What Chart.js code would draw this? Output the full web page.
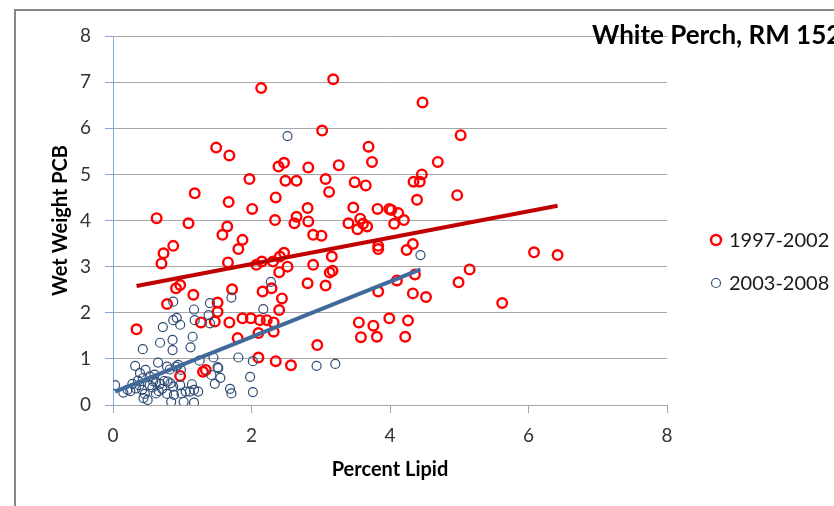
<!DOCTYPE html>
<html>
<head>
<meta charset="utf-8">
<title>White Perch, RM 152</title>
<script src="https://cdn.jsdelivr.net/npm/chart.js@4.4.1/dist/chart.umd.min.js"></script>
<style>
    html, body { margin: 0; padding: 0; background: #fff; }
    #pcb-chart { display: block; }
</style>
</head>
<body>
<canvas id="pcb-chart" width="834" height="506"></canvas>
<script>
    const chartTitle = 'White Perch, RM 152';
    const seriesNames = ['1997-2002', '2003-2008'];

    // percent lipid / wet weight PCB, 1997-2002
    const lipid9702 = [0.63, 0.73, 0.87, 1.09, 1.18, 1.49, 1.68, 1.67, 1.58, 1.65, 1.81, 1.87, 1.97, 2.01, 2.14, 2.34,
        2.35, 2.39, 2.47, 2.49, 2.62, 2.65, 2.65, 2.81, 2.82, 2.82, 2.89, 3.01, 3.02, 3.07, 3.12, 3.18, 3.26, 3.40,
        3.47, 3.49, 3.53, 3.57, 3.61, 3.65, 3.67, 3.69, 3.74, 3.82, 3.83, 3.83, 3.99, 4.02, 4.06, 4.12, 4.20, 4.24,
        4.33, 4.34, 4.43, 4.39, 4.46, 4.47, 5.02, 4.69, 4.97, 6.08, 6.42, 5.15, 4.99, 5.62, 3.16, 3.17, 3.13, 3.07,
        4.36, 4.10, 3.83, 4.33, 4.52, 3.55, 3.76, 3.99, 4.26, 3.58, 3.81, 4.22, 0.34, 0.70, 0.91, 0.97, 0.78, 1.16,
        1.27, 1.66, 1.72, 1.68, 1.51, 1.51, 1.47, 1.80, 1.30, 1.34, 0.97, 1.87, 1.99, 2.07, 2.15, 2.16, 2.10, 2.12,
        2.22, 2.10, 2.31, 2.29, 2.40, 2.44, 2.40, 2.52, 2.32, 2.32, 2.35, 2.57, 2.81, 2.89, 2.95, 2.41, 2.47];
    const pcb9702 = [4.05, 3.29, 3.45, 3.94, 4.59, 5.58, 5.41, 4.40, 3.69, 3.87, 3.38, 3.58, 4.90, 4.25, 6.87, 4.01,
        4.50, 5.17, 5.25, 4.86, 3.94, 4.86, 4.08, 4.27, 5.15, 3.98, 3.69, 3.67, 5.95, 4.90, 4.62, 7.06, 5.20, 3.94,
        4.28, 4.83, 3.81, 4.04, 3.93, 4.76, 3.87, 5.60, 5.27, 4.25, 3.45, 3.38, 4.25, 4.23, 3.93, 4.16, 4.01, 3.36,
        3.49, 4.84, 4.84, 4.45, 5.00, 6.56, 5.85, 5.27, 4.55, 3.31, 3.25, 2.94, 2.66, 2.21, 3.22, 2.91, 2.87, 2.59,
        2.83, 2.70, 2.46, 2.42, 2.34, 1.79, 1.72, 1.88, 1.83, 1.47, 1.48, 1.48, 1.64, 3.07, 2.53, 2.60, 2.19, 2.39,
        1.79, 3.09, 2.51, 1.79, 2.22, 2.02, 1.81, 1.45, 0.72, 0.76, 0.63, 1.88, 1.88, 3.04, 3.11, 2.46, 1.56, 1.84,
        1.84, 1.03, 3.11, 2.53, 2.06, 2.31, 2.88, 3.00, 1.79, 1.59, 0.95, 0.86, 2.64, 3.04, 1.30, 3.22, 3.30];

    // percent lipid / wet weight PCB, 2003-2008
    const lipid0308 = [2.52, 4.44, 2.28, 1.71, 2.17, 1.81, 2.02, 1.52, 1.55, 1.47, 1.98, 1.69, 1.71, 2.02, 2.94, 3.21,
        0.87, 1.17, 1.40, 1.18, 0.87, 0.92, 0.97, 0.72, 1.38, 1.40, 0.86, 0.68, 1.15, 1.12, 0.86, 0.43, 0.65, 0.32,
        0.39, 0.47, 1.45, 1.25, 1.51, 1.42, 1.14, 1.17, 1.23, 1.11, 1.05, 0.99, 0.97, 1.17, 1.02, 0.84, 0.88, 0.78,
        0.94, 0.78, 0.82, 0.91, 0.98, 0.79, 0.83, 0.87, 0.03, 0.15, 0.21, 0.28, 0.33, 0.43, 0.38, 0.42, 0.46, 0.44,
        0.50, 0.53, 0.58, 0.62, 0.68, 0.74, 0.53, 0.60, 0.62, 0.66, 0.71, 0.25, 0.36, 0.57];
    const pcb0308 = [5.83, 3.25, 2.67, 2.33, 2.08, 1.03, 0.95, 0.80, 0.59, 0.46, 0.61, 0.35, 0.25, 0.28, 0.85, 0.89,
        2.24, 2.07, 2.21, 1.84, 1.84, 1.89, 1.74, 1.69, 1.95, 1.77, 1.41, 1.35, 1.48, 1.25, 1.19, 1.21, 0.92, 0.85,
        0.69, 0.76, 1.03, 0.96, 0.82, 0.65, 0.45, 0.33, 0.29, 0.29, 0.29, 0.25, 0.43, 0.05, 0.07, 0.07, 0.22, 0.24,
        0.87, 0.83, 0.77, 0.83, 0.76, 0.51, 0.47, 0.40, 0.43, 0.27, 0.33, 0.46, 0.36, 0.58, 0.43, 0.33, 0.24, 0.15,
        0.11, 0.43, 0.51, 0.50, 0.46, 0.52, 0.62, 0.66, 0.25, 0.30, 0.35, 0.30, 0.53, 0.38];

    // linear trend lines, end points
    const trendLipid9702 = [0.34, 6.42];
    const trendPcb9702 = [2.58, 4.32];
    const trendLipid0308 = [0.03, 4.44];
    const trendPcb0308 = [0.29, 2.94];

    const xTicks = [0, 2, 4, 6, 8];
    const yTicks = [0, 1, 2, 3, 4, 5, 6, 7, 8];

    const colors = {
        red: '#ff0000',
        redTrend: '#c00000',
        blue: '#2e4c74',
        blueTrend: '#41699c',
        grid: '#a6a6a6',
        yAxis: '#86a9d6'
    };
    const fontFamily = 'Lato, "Open Sans", sans-serif';

    function toPoints(xs, ys) {
        return xs.map((x, i) => ({ x: x, y: ys[i] }));
    }

    // white background, outer frame, title and legend
    const framePlugin = {
        id: 'frame',
        beforeDraw(chart) {
            const ctx = chart.ctx;
            ctx.save();
            ctx.fillStyle = '#fff';
            ctx.fillRect(0, 0, chart.width, chart.height);
            ctx.strokeStyle = '#868686';
            ctx.lineWidth = 2;
            ctx.strokeRect(15, 10, 900, 600);
            ctx.restore();
        },
        afterDraw(chart) {
            const ctx = chart.ctx;
            ctx.save();
            ctx.fillStyle = '#000';
            ctx.font = 'bold 26px ' + fontFamily;
            ctx.textBaseline = 'middle';
            ctx.textAlign = 'left';
            ctx.fillText(chartTitle, 592, 36);

            const legend = [
                { name: seriesNames[0], color: colors.red, r: 5, w: 2.4, y: 240 },
                { name: seriesNames[1], color: colors.blue, r: 4.5, w: 1.2, y: 283 }
            ];
            ctx.font = '20px ' + fontFamily;
            legend.forEach(item => {
                ctx.beginPath();
                ctx.arc(716, item.y, item.r, 0, Math.PI * 2);
                ctx.strokeStyle = item.color;
                ctx.lineWidth = item.w;
                ctx.stroke();
                ctx.fillStyle = '#1a1a1a';
                ctx.fillText(item.name, 729, item.y + 1);
            });
            ctx.restore();
        }
    };

    new Chart(document.getElementById('pcb-chart'), {
        type: 'scatter',
        data: {
            datasets: [{
                label: seriesNames[0] + ' trend',
                data: toPoints(trendLipid9702, trendPcb9702),
                showLine: true,
                borderColor: colors.redTrend,
                borderWidth: 4,
                pointRadius: 0,
                order: 0
            }, {
                label: seriesNames[1] + ' trend',
                data: toPoints(trendLipid0308, trendPcb0308),
                showLine: true,
                borderColor: colors.blueTrend,
                borderWidth: 4,
                pointRadius: 0,
                order: 0
            }, {
                label: seriesNames[0],
                data: toPoints(lipid9702, pcb9702),
                pointRadius: 4.8,
                pointBorderWidth: 2.4,
                borderColor: colors.red,
                backgroundColor: 'rgba(0,0,0,0)',
                order: 2
            }, {
                label: seriesNames[1],
                data: toPoints(lipid0308, pcb0308),
                pointRadius: 4.5,
                pointBorderWidth: 1.2,
                borderColor: colors.blue,
                backgroundColor: 'rgba(0,0,0,0)',
                order: 1
            }]
        },
        options: {
            responsive: false,
            devicePixelRatio: 1,
            animation: false,
            layout: {
                padding: { left: 0, top: 36, right: 167, bottom: 0 }
            },
            plugins: {
                legend: { display: false },
                tooltip: { enabled: false }
            },
            scales: {
                x: {
                    type: 'linear',
                    min: 0,
                    max: 8,
                    afterBuildTicks: scale => { scale.ticks = xTicks.map(v => ({ value: v })); },
                    afterFit: scale => { scale.height = 101; },
                    grid: {
                        drawOnChartArea: false,
                        tickLength: 8,
                        tickColor: colors.grid
                    },
                    border: { color: colors.grid, width: 1 },
                    ticks: {
                        padding: 11,
                        color: '#333',
                        font: { family: fontFamily, size: 19 }
                    },
                    title: {
                        display: true,
                        text: 'Percent Lipid',
                        color: '#000',
                        font: { family: fontFamily, size: 20, weight: 'bold' },
                        padding: { top: 0, bottom: 24 }
                    }
                },
                y: {
                    type: 'linear',
                    min: 0,
                    max: 8,
                    afterBuildTicks: scale => { scale.ticks = yTicks.map(v => ({ value: v })); },
                    afterFit: scale => { scale.width = 113; },
                    grid: {
                        color: colors.grid,
                        tickLength: 8,
                        tickColor: colors.yAxis
                    },
                    border: { color: colors.yAxis, width: 1 },
                    ticks: {
                        padding: 14,
                        color: '#333',
                        font: { family: fontFamily, size: 19 }
                    },
                    title: {
                        display: true,
                        text: 'Wet Weight PCB',
                        color: '#000',
                        font: { family: fontFamily, size: 20, weight: 'bold' },
                        padding: { top: 49, bottom: 0 }
                    }
                }
            }
        },
        plugins: [framePlugin]
    });
</script>
</body>
</html>
